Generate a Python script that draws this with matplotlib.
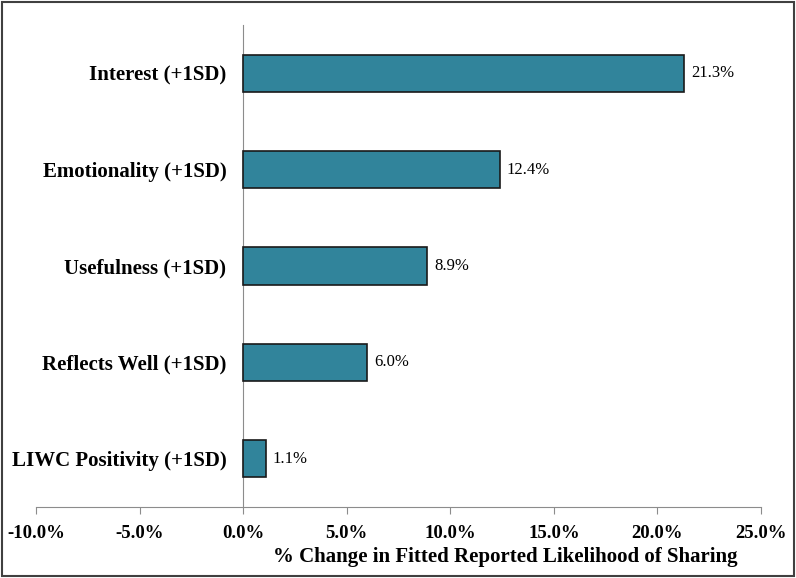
import matplotlib.pyplot as plt
from matplotlib.patches import Rectangle
from matplotlib.ticker import FuncFormatter

categories = ['Interest (+1SD)', 'Emotionality (+1SD)', 'Usefulness (+1SD)',
              'Reflects Well (+1SD)', 'LIWC Positivity (+1SD)']
values = [21.3, 12.4, 8.9, 6.0, 1.1]
xticks = [-10, -5, 0, 5, 10, 15, 20, 25]

plt.rcParams['font.family'] = ['Liberation Serif', 'DejaVu Serif']

fig = plt.figure(figsize=(7.96, 5.78), dpi=100)
ax = fig.add_axes([0.0452, 0.1228, 0.9108, 0.8339])

ypos = list(range(len(categories)))[::-1]
ax.barh(ypos, values, height=0.385, color='#31849B', edgecolor='#1a1a1a', linewidth=1.2, zorder=3)

for y, v in zip(ypos, values):
    ax.annotate(f'{v:.1f}%', (v, y), xytext=(5, 0), textcoords='offset points',
                va='center', ha='left', fontsize=12)

ax.spines['top'].set_visible(False)
ax.spines['right'].set_visible(False)
ax.spines['left'].set_position(('data', 0))
ax.spines['left'].set_color('#8c8c8c')
ax.spines['bottom'].set_color('#8c8c8c')

ax.set_xlim(-10, 25)
ax.set_ylim(-0.5, len(categories) - 0.5)
ax.set_xticks(xticks)
ax.xaxis.set_major_formatter(FuncFormatter(lambda x, p: f'{x:.1f}%'))
ax.set_yticks(ypos)
ax.set_yticklabels(categories)
ax.tick_params(axis='y', length=0, pad=12)
ax.tick_params(axis='x', direction='out', length=5, color='#8c8c8c', pad=8)

for lab in ax.get_xticklabels():
    lab.set_fontweight('bold')
    lab.set_fontsize(13.5)
for lab in ax.get_yticklabels():
    lab.set_fontweight('bold')
    lab.set_fontsize(15)

ax.set_xlabel('% Change in Fitted Reported Likelihood of Sharing', fontsize=15, fontweight='bold')
ax.xaxis.set_label_coords(0.647, -0.083)

fig.patches.append(Rectangle((0.002, 0.003), 0.996, 0.994, transform=fig.transFigure,
                             fill=False, edgecolor='#404040', linewidth=1.5))

fig.savefig('out.png', dpi=100)
